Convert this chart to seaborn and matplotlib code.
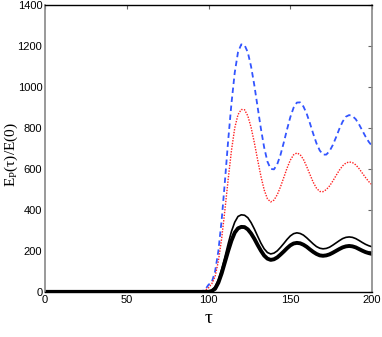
#--Import libraries--#
import numpy as np
import pandas as pd
import seaborn as sns
import matplotlib
matplotlib.use("Agg")
import matplotlib.pyplot as plt

#--Data--#
tau = [0, 50, 90, 94, 96, 98, 100, 102, 104, 106, 108, 110, 112, 114, 116, 118, 120,
       122, 124, 126, 128, 130, 132, 134, 136, 138, 140, 142, 144, 146, 148, 150,
       152, 154, 156, 158, 160, 162, 164, 166, 168, 170, 172, 174, 176, 178, 180,
       182, 184, 186, 188, 190, 192, 194, 196, 198, 200]

blue_dash = [0, 0, 0, 1, 3, 12, 35, 48, 100, 200, 350, 540, 740, 920, 1070, 1170, 1208,
             1205, 1169, 1100, 1008, 902, 797, 705, 636, 600, 598, 623, 669, 729, 793, 853,
             899, 924, 925, 905, 870, 823, 772, 725, 690, 670, 670, 687, 717, 755, 796,
             831, 855, 863, 858, 843, 818, 788, 758, 732, 712]

red_dot = [0, 0, 0, 1, 2, 8, 20, 40, 75, 150, 260, 400, 550, 690, 800, 865, 890,
           889, 859, 803, 728, 645, 565, 498, 454, 439, 448, 474, 513, 558, 604, 643,
           669, 678, 670, 647, 612, 573, 535, 506, 490, 489, 499, 517, 541, 568, 594,
           615, 629, 634, 631, 620, 602, 580, 558, 538, 522]

black_thin = [0, 0, 0, 0, 0, 1, 2, 8, 25, 60, 110, 170, 235, 295, 340, 368, 376,
              374, 362, 338, 307, 272, 238, 210, 192, 185, 189, 200, 217, 236, 256, 273,
              284, 288, 285, 277, 264, 249, 234, 221, 213, 210, 212, 218, 228, 239, 250,
              260, 266, 268, 266, 260, 251, 241, 232, 225, 220]

black_thick = [0, 0, 0, 0, 0, 0, 0, 4, 15, 45, 90, 145, 200, 250, 289, 310, 317,
               316, 305, 285, 259, 229, 201, 177, 162, 156, 159, 168, 182, 197, 213, 227,
               236, 239, 237, 230, 220, 207, 195, 185, 178, 176, 178, 183, 191, 200, 209,
               217, 222, 224, 222, 217, 209, 201, 194, 189, 185]

x_ticks = [0, 50, 100, 150, 200]
y_ticks = [0, 200, 400, 600, 800, 1000, 1200, 1400]

df = pd.DataFrame({'tau': tau, 'blue': blue_dash, 'red': red_dot,
                   'thin': black_thin, 'thick': black_thick})

#--Style--#
sns.set_style("white")
plt.rcParams['font.family'] = ['Liberation Sans', 'DejaVu Sans']
plt.rcParams['mathtext.fontset'] = 'custom'
plt.rcParams['mathtext.rm'] = 'Liberation Serif'
plt.rcParams['mathtext.it'] = 'Liberation Serif'

fig = plt.figure(figsize=(3.82, 3.37), dpi=100)
ax = fig.add_axes([0.118, 0.134, 0.856, 0.851])

sns.lineplot(data=df, x='tau', y='blue', ax=ax, color='#3355ff', lw=1.3,
             linestyle=(0, (3, 2)))
sns.lineplot(data=df, x='tau', y='red', ax=ax, color='#ff2020', lw=1.0,
             linestyle=(0, (1, 1)))
sns.lineplot(data=df, x='tau', y='thin', ax=ax, color='black', lw=1.2)
sns.lineplot(data=df, x='tau', y='thick', ax=ax, color='black', lw=2.8)

ax.set_xlim(0, 200)
ax.set_ylim(0, 1400)
ax.set_xticks(x_ticks)
ax.set_yticks(y_ticks)
ax.tick_params(direction='in', length=3, labelsize=8, top=True, right=True,
               color='#666666', labelcolor='black', pad=2)
for side in ['left', 'right']:
    ax.spines[side].set_color('#888888')
    ax.spines[side].set_linewidth(1.2)
for side in ['top', 'bottom']:
    ax.spines[side].set_color('black')
    ax.spines[side].set_linewidth(1.0)

ax.set_xlabel('τ', fontsize=14, family='Liberation Serif', labelpad=4, color='black')
ax.set_ylabel(r'E$_\mathrm{P}$(τ)/E(0)', fontsize=11, family='Liberation Serif',
              color='black')
ax.yaxis.set_label_coords(-0.078, 0.48)

fig.savefig('out.png', dpi=100)
